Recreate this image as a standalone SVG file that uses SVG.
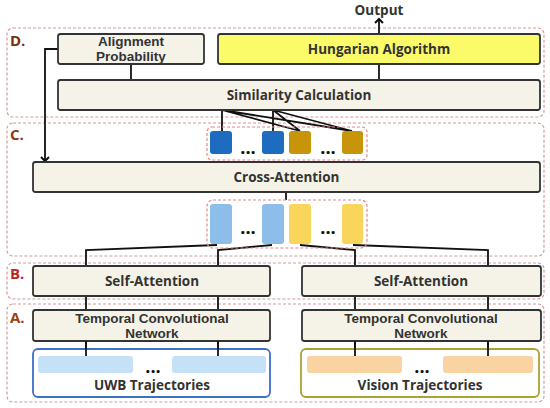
<svg xmlns="http://www.w3.org/2000/svg" width="550" height="408" viewBox="0 0 550 408">
<defs>
<marker id="arr" markerWidth="10" markerHeight="10" refX="5" refY="5" orient="auto" markerUnits="userSpaceOnUse">
<path d="M1,1 L5,5 L1,9" fill="none" stroke="#111" stroke-width="2"/>
</marker>
<style>
.sec{fill:none;stroke:#D49A9A;stroke-width:1.2;stroke-dasharray:3 2}
.grp{fill:none;stroke:#E08A8A;stroke-width:1.2;stroke-dasharray:3 2}
.box{fill:#F5F3E7;stroke:#333;stroke-width:1.8}
.hung{fill:#FBFB6A;stroke:#333;stroke-width:1.8}
.t{font-family:"Open Sans","Noto Sans",sans-serif;font-weight:bold;font-size:13.5px;fill:#333;text-anchor:middle}
.t2{font-family:"Liberation Sans",Arial,sans-serif;font-weight:bold;font-size:13.5px;fill:#333;text-anchor:middle}
.lab{font-family:"Open Sans","Noto Sans",sans-serif;font-weight:bold;font-size:15px}
.dots{font-family:"Open Sans",sans-serif;font-weight:bold;font-size:18px;fill:#111;text-anchor:middle}
.ln{fill:none;stroke:#111;stroke-width:1.8}
</style>
</defs>
<rect width="550" height="408" fill="#fff"/>
<g id="sections">
<rect class="sec" x="7" y="28" width="537" height="89" rx="6"/>
<rect class="sec" x="7" y="123" width="537" height="133" rx="6"/>
<rect class="sec" x="7" y="263" width="537" height="36" rx="6"/>
<rect class="sec" x="7" y="304" width="537" height="98" rx="6"/>
<text class="lab" x="10" y="46" fill="#7E2D0E">D.</text>
<text class="lab" x="10" y="140" fill="#8A3A10">C.</text>
<text class="lab" x="10" y="279" fill="#B8281F">B.</text>
<text class="lab" x="10" y="323" fill="#A0420F">A.</text>
</g>
<g id="connectors">
<line class="ln" x1="379" y1="34" x2="379" y2="19" marker-end="url(#arr)"/>
<line class="ln" x1="131" y1="64" x2="131" y2="80"/>
<line class="ln" x1="379" y1="64" x2="379" y2="80"/>
<path class="ln" d="M58,49 H45 V161" marker-end="url(#arr)"/>
<path class="ln" d="M222,110 V131 M273,110 V131 M222,110 L300,131 M222,110 L352,131 M273,110 L300,131 M273,110 L352,131"/>
<line class="ln" x1="286" y1="192" x2="286" y2="200"/>
<path class="ln" d="M217,245 L86,250 V266 M272,245 L218,250 V266 M300,245 L355,250 V266 M353,245 L488,250 V266"/>
<path class="ln" d="M86,296 V310 M218,296 V310 M355,296 V310 M488,296 V310"/>
<path class="ln" d="M86,341 V356 M218,341 V356 M355,341 V356 M488,341 V356"/>
</g>
<text class="t" x="379" y="15">Output</text>
<g id="alignment">
<rect class="box" x="58" y="34" width="146" height="30" rx="2.5"/>
<text class="t2" x="131" y="46">Alignment</text>
<text class="t2" x="131" y="61">Probability</text>
</g>
<g id="hungarian">
<rect class="hung" x="218" y="34" width="322" height="30" rx="2.5"/>
<text class="t" x="379" y="54">Hungarian Algorithm</text>
</g>
<g id="similarity">
<rect class="box" x="58" y="80" width="482" height="30" rx="2.5"/>
<text class="t" x="299" y="100">Similarity Calculation</text>
</g>
<g id="tokens-top">
<rect class="grp" x="207" y="127" width="160" height="33" rx="5"/>
<rect x="210" y="131" width="22" height="23" rx="3" fill="#1E6CC0"/>
<rect x="262" y="131" width="22" height="23" rx="3" fill="#1E6CC0"/>
<rect x="289" y="131" width="22" height="23" rx="3" fill="#C8940A"/>
<rect x="342" y="131" width="21" height="23" rx="3" fill="#C8940A"/>
<text class="dots" x="248" y="154">...</text>
<text class="dots" x="328" y="154">...</text>
</g>
<g id="cross-attention">
<rect class="box" x="33" y="162" width="507" height="30" rx="2.5"/>
<text class="t" x="286.5" y="182">Cross-Attention</text>
</g>
<g id="tokens-bottom">
<rect class="grp" x="207" y="200" width="160" height="48" rx="6"/>
<rect x="210" y="204" width="22" height="40" rx="3" fill="#8DBEE9"/>
<rect x="262" y="204" width="22" height="40" rx="3" fill="#8DBEE9"/>
<rect x="289" y="204" width="22" height="40" rx="3" fill="#F9D55C"/>
<rect x="342" y="204" width="21" height="40" rx="3" fill="#F9D55C"/>
<text class="dots" x="248" y="234">...</text>
<text class="dots" x="328" y="234">...</text>
</g>
<g id="self-attention-left">
<rect class="box" x="33" y="266" width="237" height="30" rx="2.5"/>
<text class="t" x="152" y="286">Self-Attention</text>
</g>
<g id="self-attention-right">
<rect class="box" x="302" y="266" width="239" height="30" rx="2.5"/>
<text class="t" x="421" y="286">Self-Attention</text>
</g>
<g id="tcn-left">
<rect class="box" x="33" y="310" width="237" height="31" rx="2.5"/>
<text class="t2" x="152" y="323">Temporal Convolutional</text>
<text class="t2" x="152" y="338">Network</text>
</g>
<g id="tcn-right">
<rect class="box" x="302" y="310" width="239" height="31" rx="2.5"/>
<text class="t2" x="421" y="323">Temporal Convolutional</text>
<text class="t2" x="421" y="338">Network</text>
</g>
<g id="uwb">
<rect x="33" y="349" width="237" height="48" rx="5" fill="#fff" stroke="#3C6FC6" stroke-width="1.8"/>
<rect x="38" y="356" width="95" height="17" rx="3" fill="#C5E1F8"/>
<rect x="172" y="356" width="94" height="17" rx="3" fill="#C5E1F8"/>
<path class="ln" d="M86,341 V356 M218,341 V356"/>
<text class="dots" x="153" y="373">...</text>
<text class="t" x="152" y="390">UWB Trajectories</text>
</g>
<g id="vision">
<rect x="301" y="349" width="238" height="48" rx="5" fill="#fff" stroke="#ACA232" stroke-width="1.8"/>
<rect x="307" y="356" width="95" height="17" rx="3" fill="#F9D3A1"/>
<rect x="443" y="356" width="90" height="17" rx="3" fill="#F9D3A1"/>
<path class="ln" d="M355,341 V356 M488,341 V356"/>
<text class="dots" x="422" y="373">...</text>
<text class="t" x="420" y="390">Vision Trajectories</text>
</g>
</svg>
